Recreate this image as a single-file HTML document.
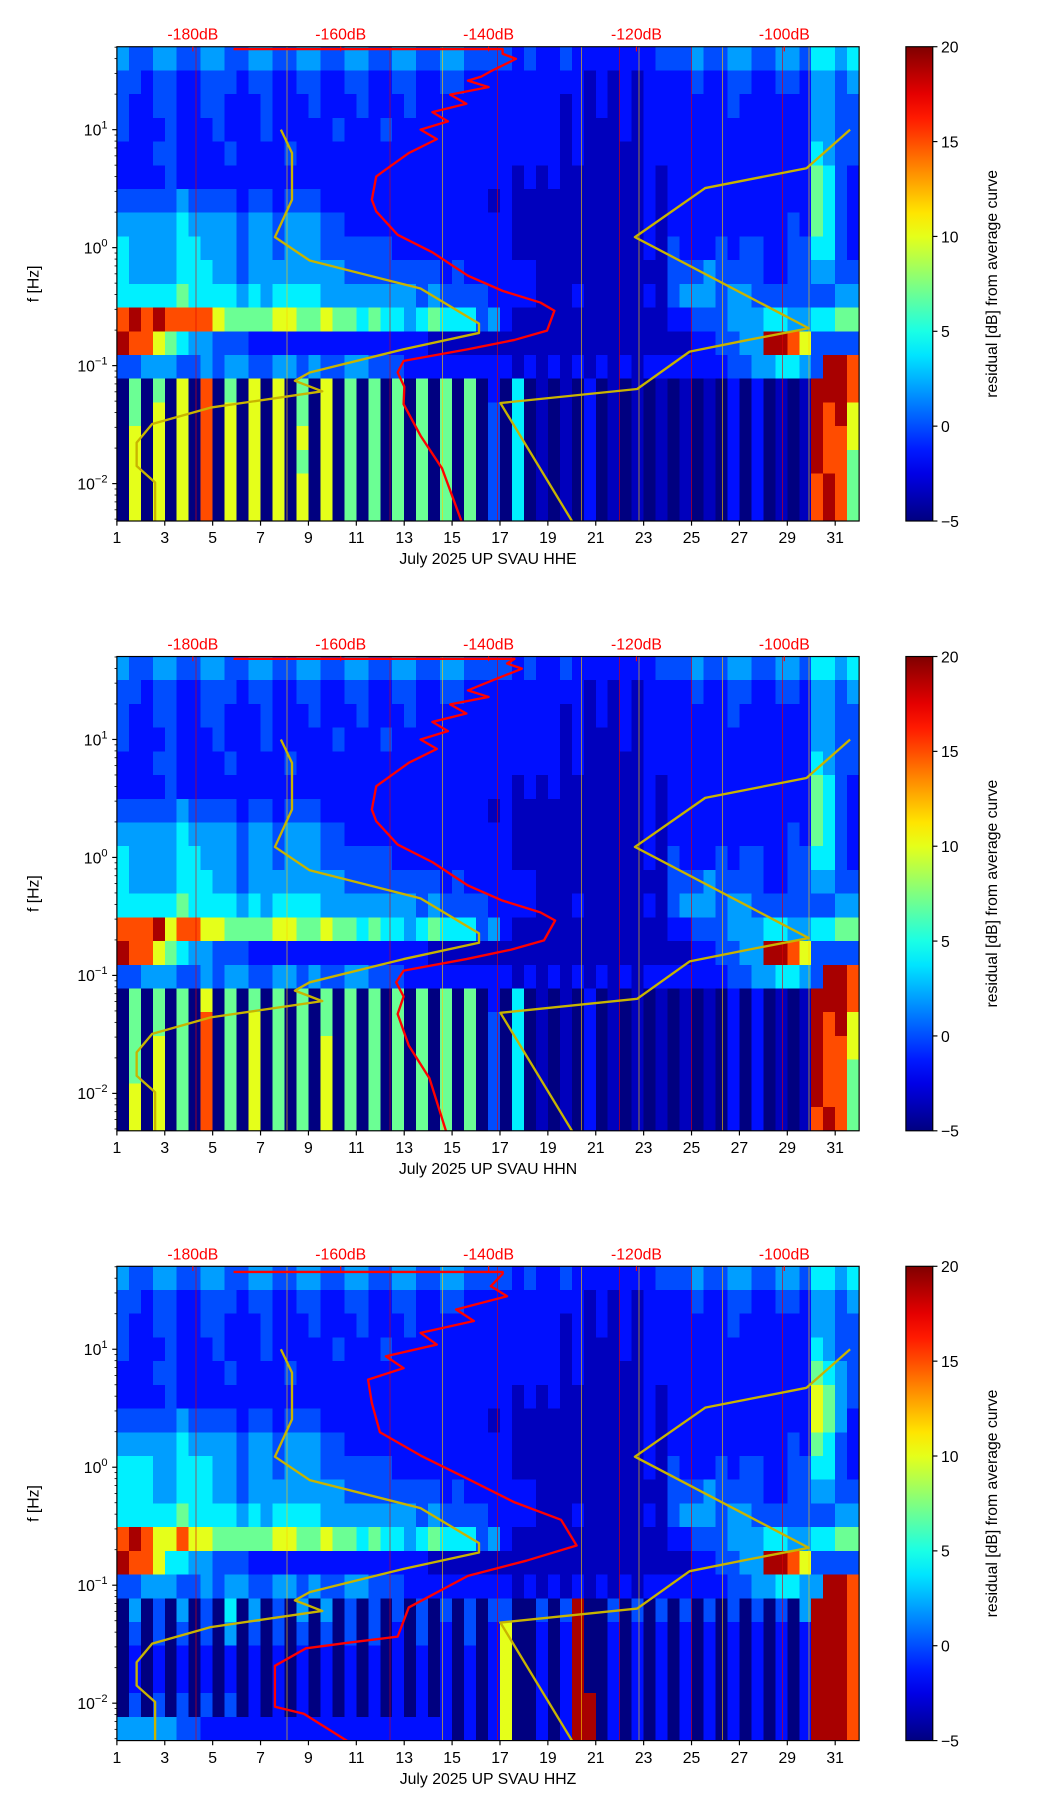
<!DOCTYPE html>
<html><head><meta charset="utf-8"><style>
html,body{margin:0;padding:0;background:#fff;}
svg{display:block;}
text{font-family:"Liberation Sans","DejaVu Sans",sans-serif;}
</style></head><body>
<svg id="fig" xmlns="http://www.w3.org/2000/svg" width="1052" height="1806" viewBox="0 0 900 1546" preserveAspectRatio="none"></svg>
<script>
// ---- data ----
const panelNames = ["HHE", "HHN", "HHZ"];
const dayTicks = [1,3,5,7,9,11,13,15,17,19,21,23,25,27,29,31];
const dbTicks = [-180,-160,-140,-120,-100];
const decadeTicks = [1,0,-1,-2];
const cbTicks = [-5,0,5,10,15,20];
const levelValues = [-5,-3.5,-1.5,0,2,4,7,10,15,19];

const hheRows = [
"43 34 43 34 43 34 43 34 43 34 43 34 43 34 43 33 32 32 23 22 22 22 23 33 43 34 43 34 43 55 45",
"33 23 32 23 33 23 32 23 32 23 32 23 32 23 32 22 22 22 22 21 21 21 22 22 32 23 32 23 32 44 34",
"32 23 32 23 32 22 32 22 32 22 32 22 32 22 22 22 22 22 21 21 21 21 22 22 22 23 22 22 22 44 33",
"32 22 32 22 32 22 32 22 22 32 22 32 22 22 22 22 22 22 21 21 11 21 22 22 22 22 22 22 22 44 33",
"22 23 32 22 23 22 22 32 22 22 22 22 22 22 22 22 22 22 21 21 11 11 22 22 22 22 22 22 22 54 33",
"22 22 32 22 22 22 22 22 22 22 22 22 22 22 22 22 21 21 21 11 11 11 21 22 22 22 22 22 22 65 32",
"33 33 34 33 33 23 32 33 32 22 22 22 22 22 22 21 21 11 11 11 11 11 21 22 22 22 22 22 22 65 32",
"44 44 45 44 44 34 43 44 43 32 22 22 22 22 22 22 21 11 11 11 11 11 21 22 22 22 22 22 32 65 32",
"54 44 45 54 44 34 43 44 43 33 33 32 22 22 22 22 21 11 11 11 11 11 21 32 22 32 33 22 33 55 32",
"54 44 45 55 44 34 44 44 44 43 33 33 33 32 32 22 22 21 11 11 11 11 11 33 34 33 33 22 33 44 33",
"55 55 56 55 55 45 45 55 54 44 44 44 43 43 33 32 22 21 11 21 11 11 21 34 44 34 43 33 33 33 44",
"89 89 88 88 76 66 67 76 67 66 56 55 45 65 55 34 21 11 11 11 11 11 11 22 33 34 44 55 44 55 66",
"98 87 65 44 33 32 22 22 22 22 22 22 22 11 11 11 11 11 11 11 11 11 11 11 22 33 44 99 87 33 33",
"33 44 43 34 34 43 34 43 43 34 43 33 22 22 22 22 21 21 21 21 21 21 22 22 22 23 34 45 54 39 98",
"06 06 07 08 06 07 07 06 07 06 06 06 06 06 06 02 05 01 01 02 01 01 01 01 01 02 02 01 01 99 98",
"06 07 07 08 07 07 07 06 07 06 06 06 06 06 06 03 05 01 01 02 01 01 01 01 01 02 02 01 01 98 97",
"07 07 07 08 07 07 07 07 07 06 06 06 06 06 06 03 05 01 01 02 01 01 01 01 01 02 02 01 01 98 87",
"07 07 07 08 07 07 07 06 07 06 06 06 06 06 06 03 05 01 01 02 01 01 01 01 01 02 02 01 01 98 86",
"07 07 07 08 07 07 07 07 07 06 06 06 06 06 06 03 05 01 01 02 01 01 01 01 01 02 02 01 01 89 86",
"07 07 07 08 07 07 07 07 07 06 06 06 06 06 06 03 05 01 01 02 01 01 01 01 01 02 02 01 01 89 86"
];
const hhnRows = [
"43 34 43 34 43 34 43 34 43 34 43 34 43 34 43 33 32 32 23 22 22 22 23 33 43 34 43 34 43 55 45",
"33 23 32 23 33 23 32 23 32 23 32 23 32 23 32 22 22 22 22 21 21 21 22 22 32 23 32 23 32 44 34",
"32 23 32 23 32 22 32 22 32 22 32 22 32 22 22 22 22 22 21 21 21 21 22 22 22 23 22 22 22 44 33",
"32 22 32 22 32 22 32 22 22 32 22 32 22 22 22 22 22 22 21 21 11 21 22 22 22 22 22 22 22 44 33",
"22 23 32 22 23 22 22 32 22 22 22 22 22 22 22 22 22 22 21 21 11 11 22 22 22 22 22 22 22 54 33",
"22 22 32 22 22 22 22 22 22 22 22 22 22 22 22 22 21 21 21 11 11 11 21 22 22 22 22 22 22 65 32",
"33 33 34 33 33 23 32 33 32 22 22 22 22 22 22 21 21 11 11 11 11 11 21 22 22 22 22 22 22 65 32",
"44 44 45 44 44 34 43 44 43 32 22 22 22 22 22 22 21 11 11 11 11 11 21 22 22 22 22 22 32 65 32",
"54 44 45 54 44 34 43 44 43 33 33 32 22 22 22 22 21 11 11 11 11 11 21 32 22 32 33 22 33 55 32",
"54 44 45 55 44 34 44 44 44 43 33 33 33 32 32 22 22 21 11 11 11 11 11 33 34 33 33 22 33 44 33",
"55 55 56 55 55 45 45 55 54 44 44 44 43 43 33 32 22 21 11 21 11 11 21 34 44 34 43 33 33 33 44",
"88 89 78 87 76 66 67 76 67 66 56 55 45 65 55 34 21 11 11 11 11 11 11 22 33 34 44 55 44 55 66",
"98 87 65 44 33 32 22 22 22 22 22 22 22 11 11 11 11 11 11 11 11 11 11 11 22 33 44 99 87 33 33",
"33 44 43 34 34 43 34 43 43 34 43 33 22 22 22 22 21 21 21 21 21 21 22 22 22 23 34 45 54 39 98",
"06 06 06 07 06 06 06 06 06 06 06 06 06 06 06 02 05 01 01 02 01 01 01 01 01 02 02 01 01 99 98",
"06 06 06 08 06 07 06 06 06 06 06 06 06 06 06 03 05 01 01 02 01 01 01 01 01 02 02 01 01 98 97",
"06 07 06 08 06 07 06 06 07 06 06 06 06 06 06 03 05 01 01 02 01 01 01 01 01 02 02 01 01 98 87",
"06 07 06 08 06 07 06 06 07 06 06 06 06 06 06 03 05 01 01 02 01 01 01 01 01 02 02 01 01 98 86",
"07 07 06 08 06 07 06 06 07 06 06 06 06 06 06 03 05 01 01 02 01 01 01 01 01 02 02 01 01 98 86",
"07 07 06 08 06 07 06 06 07 06 06 06 06 06 06 03 05 01 01 02 01 01 01 01 01 02 02 01 01 89 86"
];
const hhzRows = [
"43 34 43 34 43 34 43 34 43 34 43 34 43 34 43 33 32 32 23 22 22 22 23 33 43 34 43 34 43 55 45",
"33 23 32 23 33 23 32 23 32 23 32 23 32 23 32 22 22 22 22 21 21 21 22 22 32 23 32 23 32 44 34",
"32 23 32 23 32 22 32 22 32 22 32 22 32 22 22 22 22 22 21 21 21 21 22 22 22 23 22 22 22 44 33",
"32 22 32 22 32 22 32 22 22 32 22 32 22 22 22 22 22 22 21 21 11 21 22 22 22 22 22 22 22 54 33",
"22 23 32 22 23 22 22 32 22 22 22 22 22 22 22 22 22 22 21 21 11 11 22 22 22 22 22 22 22 65 43",
"22 22 32 22 22 22 22 22 22 22 22 22 22 22 22 22 21 21 21 11 11 11 21 22 22 22 22 22 22 76 43",
"33 33 34 33 33 23 32 33 32 22 22 22 22 22 22 21 21 11 11 11 11 11 21 22 22 22 22 22 22 76 42",
"44 44 45 44 44 34 43 44 43 32 22 22 22 22 22 22 21 11 11 11 11 11 21 22 22 22 22 22 32 65 32",
"55 54 45 55 44 34 43 44 43 33 33 32 22 22 22 22 21 11 11 11 11 11 21 32 22 32 33 22 33 55 32",
"55 54 45 55 44 34 44 44 44 43 33 33 33 32 32 22 22 21 11 11 11 11 11 33 34 33 33 22 33 44 33",
"55 55 56 55 55 45 45 55 54 44 44 44 43 43 33 32 22 21 11 21 11 11 21 34 44 34 43 33 33 33 44",
"89 87 78 77 66 66 67 76 67 66 56 55 45 65 55 34 21 11 11 11 11 11 11 22 33 34 44 55 44 55 66",
"98 87 55 44 33 32 22 22 22 22 22 22 22 11 11 11 11 11 11 11 11 11 11 11 22 33 44 99 87 33 33",
"33 44 43 34 34 43 34 43 43 34 43 33 22 22 22 22 21 21 21 21 21 21 22 22 22 23 34 45 54 49 98",
"04 03 04 03 05 04 03 04 04 03 03 03 03 03 03 03 30 03 03 90 03 03 03 03 03 03 03 03 04 99 98",
"03 03 03 03 04 03 03 03 03 03 03 02 03 02 03 02 70 02 02 90 02 02 02 02 02 02 02 02 02 99 98",
"02 02 02 02 02 02 02 02 02 02 02 02 02 02 02 02 70 02 02 90 02 02 02 02 02 02 02 02 02 99 98",
"02 02 02 02 02 02 02 02 02 02 02 02 02 02 02 02 70 02 02 90 02 02 02 02 02 02 02 02 02 99 98",
"03 03 03 03 03 02 02 02 02 02 02 02 02 02 02 02 70 02 02 99 02 02 02 02 02 02 02 02 02 99 98",
"44 44 43 32 22 22 22 22 22 22 22 22 22 22 02 02 70 02 02 99 02 02 02 02 02 02 02 02 02 99 98"
];
const spikeDays = [4.3, 8.1, 12.4, 14.6, 16.9, 20.4, 22.0, 22.8, 25.0, 26.3, 28.8, 29.9];

// noise models (dB, log10 f)
const nlnmDb = [-168.1,-166.6,-166.6,-168.9,-164.2,-149.2,-141.3,-141.3,-151.5,-164.2,-166.2,-162.5,-177.6,-185.5,-187.6,-187.6,-185.1,-185.1];
const nlnmLogF = [1.0,0.802,0.406,0.089,-0.109,-0.347,-0.644,-0.723,-0.861,-1.059,-1.129,-1.218,-1.356,-1.495,-1.653,-1.851,-1.99,-2.33];
const nhnmDb = [-91.1,-97.0,-110.7,-120.2,-96.7,-104.9,-112.8,-119.9,-138.4,-128.6];
const nhnmLogF = [1.0,0.673,0.505,0.089,-0.683,-0.782,-0.881,-1.198,-1.317,-2.33];

// red PSD curves
const hheDb = [-174.5,-138.1,-138.1,-136.3,-139.7,-141.0,-142.8,-140.0,-145.2,-143.0,-147.6,-145.5,-149.2,-147.0,-150.8,-155.2,-155.8,-155.2,-152.3,-147.6,-142.8,-138.1,-133.0,-131.1,-132.1,-136.5,-142.8,-151.5,-152.3,-151.4,-151.5,-149.2,-146.3,-143.6];
const hheLogF = [1.683,1.683,1.644,1.60,1.495,1.45,1.416,1.36,1.297,1.22,1.149,1.07,1.0,0.92,0.802,0.604,0.406,0.307,0.109,-0.040,-0.238,-0.366,-0.465,-0.535,-0.703,-0.782,-0.861,-0.960,-1.059,-1.178,-1.327,-1.594,-1.871,-2.33];
const hhnDb = [-174.5,-136.5,-137.5,-135.5,-139.7,-141.5,-142.8,-140.0,-145.2,-143.0,-147.6,-145.5,-149.2,-147.0,-150.8,-155.2,-155.8,-155.2,-152.3,-147.6,-142.8,-138.1,-133.0,-131.0,-132.5,-137.0,-143.0,-151.5,-152.5,-151.5,-152.3,-150.8,-148.0,-145.7];
const hhnLogF = [1.683,1.683,1.644,1.60,1.495,1.45,1.416,1.36,1.297,1.22,1.149,1.07,1.0,0.92,0.802,0.604,0.406,0.307,0.109,-0.040,-0.238,-0.366,-0.465,-0.535,-0.703,-0.782,-0.861,-0.960,-1.059,-1.178,-1.327,-1.594,-1.871,-2.33];
const hhzDb = [-174.5,-138.1,-138.1,-139.7,-137.5,-144.4,-142.0,-149.2,-147.0,-153.9,-151.5,-156.3,-155.8,-154.7,-149.2,-142.8,-136.5,-130.2,-128.1,-134.9,-142.8,-150.8,-152.3,-158.7,-164.7,-168.9,-168.9,-165.0,-158.7];
const hhzLogF = [1.655,1.655,1.640,1.535,1.45,1.337,1.24,1.139,1.04,0.941,0.84,0.743,0.545,0.297,0.099,-0.099,-0.297,-0.446,-0.663,-0.792,-0.921,-1.188,-1.436,-1.485,-1.535,-1.683,-2.030,-2.089,-2.337];

const panelRows = [hheRows, hhnRows, hhzRows];
const panelDb = [hheDb, hhnDb, hhzDb];
const panelLogF = [hheLogF, hhnLogF, hhzLogF];

// ---- layout ----
const NS = "http://www.w3.org/2000/svg";
const svg = document.getElementById("fig");
const AX_L = 100, AX_R = 735, AX_H = 406;
const TOPS = [40, 562, 1084];
const LOG_MIN = -2.317, LOG_MAX = 1.703;
const DAY_MIN = 1, DAY_MAX = 32;
const CB_L = 775, CB_R = 798;

function xDay(d){ return AX_L + (d - DAY_MIN) / (DAY_MAX - DAY_MIN) * (AX_R - AX_L); }
function xDb(db){ return 165 + (db + 180) * 126.5 / 20; }
function yLog(top, lf){ return top + (LOG_MAX - lf) / (LOG_MAX - LOG_MIN) * AX_H; }
function jet(t){
  t = Math.max(0, Math.min(1, t));
  const r = Math.max(0, Math.min(1, 1.5 - Math.abs(4*t - 3)));
  const g = Math.max(0, Math.min(1, 1.5 - Math.abs(4*t - 2)));
  const b = Math.max(0, Math.min(1, 1.5 - Math.abs(4*t - 1)));
  return "rgb(" + Math.round(r*255) + "," + Math.round(g*255) + "," + Math.round(b*255) + ")";
}
function mk(tag, attrs, parent){
  const e = document.createElementNS(NS, tag);
  for (const k in attrs) e.setAttribute(k, attrs[k]);
  (parent || svg).appendChild(e);
  return e;
}

const defs = mk("defs", {});
const grad = mk("linearGradient", {id:"jetgrad", x1:"0", y1:"1", x2:"0", y2:"0"}, defs);
for (let i = 0; i <= 20; i++) mk("stop", {offset: (i/20), "stop-color": jet(i/20)}, grad);

TOPS.forEach((top, p) => {
  const g = mk("g", {});
  
  
  const clipId = "clip" + p;
  const cp = mk("clipPath", {id: clipId}, defs);
  mk("rect", {x: AX_L, y: top, width: AX_R - AX_L, height: AX_H}, cp);

  const hm = mk("g", {"clip-path": "url(#" + clipId + ")", "shape-rendering": "crispEdges"}, g);
  
  
  mk("rect", {x: AX_L, y: top, width: AX_R - AX_L, height: AX_H, fill: jet(0.16)}, hm);
  const rows = panelRows[p];
  const nR = rows.length;
  rows.forEach((rs, r) => {
    const s = rs.replace(/ /g, "");
    const n = s.length;
    const lfTop = LOG_MAX - r * (LOG_MAX - LOG_MIN) / nR;
    const lfBot = LOG_MAX - (r + 1) * (LOG_MAX - LOG_MIN) / nR;
    const y0 = yLog(top, lfTop), y1 = yLog(top, lfBot);
    for (let c = 0; c < n; c++) {
      const d0 = DAY_MIN + c * (DAY_MAX - DAY_MIN) / n;
      const d1 = DAY_MIN + (c + 1) * (DAY_MAX - DAY_MIN) / n;
      const v = levelValues[+s[c]];
      const cell = mk("rect", {x: xDay(d0), y: y0, width: xDay(d1) - xDay(d0) + 0.4, height: y1 - y0 + 0.4, fill: jet((v + 5) / 25)}, hm);
      
      
    }
  });
  spikeDays.forEach((d, i) => {
    const ln = mk("line", {x1: xDay(d), x2: xDay(d), y1: top, y2: top + AX_H, stroke: i % 2 ? "#ffd000" : "#e00000", "stroke-width": 0.8, opacity: 0.6}, hm);
    
    
  });

  const cg = mk("g", {"clip-path": "url(#" + clipId + ")", fill: "none", "stroke-linejoin": "round"}, g);
  const ptsOf = (dbs, lfs) => dbs.map((db, i) => xDb(db).toFixed(1) + "," + yLog(top, lfs[i]).toFixed(1)).join(" ");
  const nl = mk("polyline", {points: ptsOf(nlnmDb, nlnmLogF), stroke: "#c8b400", "stroke-width": 2}, cg);
  
  
  const nh = mk("polyline", {points: ptsOf(nhnmDb, nhnmLogF), stroke: "#c8b400", "stroke-width": 2}, cg);
  
  
  const rc = mk("polyline", {points: ptsOf(panelDb[p], panelLogF[p]), stroke: "#ff0000", "stroke-width": 2}, cg);
  
  

  mk("rect", {x: AX_L, y: top, width: AX_R - AX_L, height: AX_H, fill: "none", stroke: "#000", "stroke-width": 1}, g);

  for (let d = 1; d <= 32; d++) {
    const major = dayTicks.indexOf(d) >= 0;
    mk("line", {x1: xDay(d), x2: xDay(d), y1: top + AX_H, y2: top + AX_H + (major ? 4 : 0), stroke: "#000"}, g);
  }
  dayTicks.forEach(d => {
    const t = mk("text", {x: xDay(d), y: top + AX_H + 19, "font-size": 13.5, "text-anchor": "middle"}, g);
    t.textContent = d;
    
    
  });
  const xl = mk("text", {x: (AX_L + AX_R) / 2, y: top + AX_H + 37, "font-size": 13.5, "text-anchor": "middle"}, g);
  xl.textContent = "July 2025 UP SVAU  " + panelNames[p];
  
  

  for (let dec = -3; dec <= 1; dec++) {
    for (let m = 1; m <= 9; m++) {
      const lf = dec + Math.log10(m);
      if (lf < LOG_MIN || lf > LOG_MAX) continue;
      const y = yLog(top, lf);
      mk("line", {x1: AX_L, x2: AX_L - (m === 1 ? 4 : 2), y1: y, y2: y, stroke: "#000", "stroke-width": m === 1 ? 1 : 0.7}, g);
    }
  }
  decadeTicks.forEach(dec => {
    const y = yLog(top, dec);
    const t = mk("text", {x: 92, y: y + 5, "font-size": 13.5, "text-anchor": "end"}, g);
    
    
    const base = mk("tspan", {}, t); base.textContent = "10";
    const sup = mk("tspan", {dy: -6, "font-size": 9.5}, t); sup.textContent = dec < 0 ? "\u2212" + (-dec) : dec;
  });
  const yl = mk("text", {x: 33, y: top + AX_H / 2, "font-size": 13.5, "text-anchor": "middle", transform: "rotate(-90 33 " + (top + AX_H / 2) + ")"}, g);
  yl.textContent = "f [Hz]";
  
  

  dbTicks.forEach(db => {
    mk("line", {x1: xDb(db), x2: xDb(db), y1: top, y2: top + 4, stroke: "#ff0000"}, g);
    const t = mk("text", {x: xDb(db), y: top - 6, "font-size": 13.5, "text-anchor": "middle", fill: "#ff0000"}, g);
    t.textContent = db + "dB";
    
    
  });

  const cb = mk("g", {}, g);
  
  
  mk("rect", {x: CB_L, y: top, width: CB_R - CB_L, height: AX_H, fill: "url(#jetgrad)", stroke: "#000", "stroke-width": 1}, cb);
  cbTicks.forEach(v => {
    const y = top + AX_H - (v + 5) / 25 * AX_H;
    mk("line", {x1: CB_R, x2: CB_R + 4, y1: y, y2: y, stroke: "#000"}, cb);
    const t = mk("text", {x: CB_R + 7, y: y + 5, "font-size": 13.5}, cb);
    t.textContent = v < 0 ? "\u2212" + (-v) : v;
    
    
  });
  const cbl = mk("text", {x: 853, y: top + AX_H / 2, "font-size": 13.5, "text-anchor": "middle", transform: "rotate(-90 853 " + (top + AX_H / 2) + ")"}, cb);
  cbl.textContent = "residual [dB] from average curve";
  
  
});
</script>
</body></html>
